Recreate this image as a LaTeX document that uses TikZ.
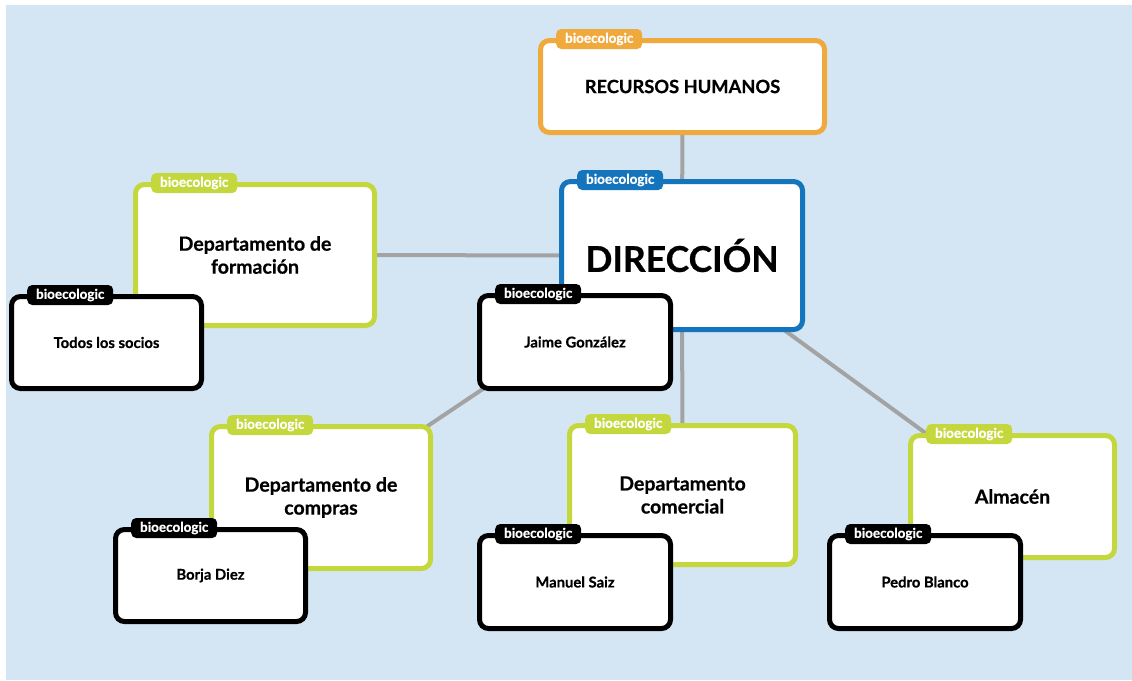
\documentclass[tikz,border=0pt]{standalone}
\usepackage{fontspec}
\setmainfont{Lato}[BoldFeatures={FakeBold=0.6}]
\usetikzlibrary{calc}
\definecolor{bgblue}{HTML}{D4E6F4}
\definecolor{orangeb}{HTML}{F0A93C}
\definecolor{greenb}{HTML}{C4D83E}
\definecolor{blueb}{HTML}{1474BC}
\definecolor{conngray}{HTML}{A3A3A3}
\pgfdeclarelayer{bg}
\pgfdeclarelayer{lines}
\pgfsetlayers{bg,lines,main}
\tikzset{
  box/.style={draw=#1, line width=5pt, rounded corners=9pt, fill=white, inner sep=0pt,
    align=center, text=black},
  tab/.style={fill=#1, rounded corners=5pt, inner sep=0pt, minimum width=86pt,
    minimum height=20pt, text=white, anchor=west,
    font=\fontsize{13.5}{13.5}\selectfont\bfseries},
  conn/.style={draw=conngray, line width=4pt},
  bigtxt/.style={font=\fontsize{18.3}{23}\selectfont\bfseries},
  midtxt/.style={font=\fontsize{19.5}{23}\selectfont\bfseries},
  smalltxt/.style={font=\fontsize{14.8}{16}\selectfont\bfseries},
  dirtxt/.style={font=\fontsize{35.5}{40}\selectfont\bfseries},
}
\begin{document}
\begin{tikzpicture}[x=1pt,y=-1pt]
\useasboundingbox (0,0) rectangle (1132,680);
\begin{pgfonlayer}{bg}
  \fill[white] (0,0) rectangle (1132,680);
  \fill[bgblue] (6,5) rectangle (1132,680);
\end{pgfonlayer}

% Recursos humanos
\node[box=orangeb, bigtxt, minimum width=284pt, minimum height=92pt] (rh) at (682.5,86.5) {RECURSOS HUMANOS};
\node[tab=orangeb] (rhtab) at ($(rh.north west)+(18,1)$) {bioecologic};

% Departamento de formacion
\node[box=greenb, midtxt, minimum width=239pt, minimum height=141pt] (form) at (255,255) {Departamento de\\formación};
\node[tab=greenb] (formtab) at ($(form.north west)+(18,1)$) {bioecologic};
\node[box=black, smalltxt, minimum width=190pt, minimum height=92pt] (socios) at (106.5,342.5) {Todos los socios};
\node[tab=black] (sociostab) at ($(socios.north west)+(18,1)$) {bioecologic};

% Direccion
\node[box=blueb, dirtxt, minimum width=241pt, minimum height=148pt] (dir) at (682,255.5) {DIRECCIÓN};
\node[tab=blueb] (dirtab) at ($(dir.north west)+(18,1)$) {bioecologic};
\node[box=black, smalltxt, minimum width=191pt, minimum height=93pt] (jaime) at (575,342) {Jaime González};
\node[tab=black] (jaimetab) at ($(jaime.north west)+(18,1)$) {bioecologic};

% Departamento de compras
\node[box=greenb, midtxt, minimum width=219pt, minimum height=142pt] (compras) at (321,497.5) {Departamento de\\compras};
\node[tab=greenb] (comprastab) at ($(compras.north west)+(18,1)$) {bioecologic};
\node[box=black, smalltxt, minimum width=190pt, minimum height=92pt] (borja) at (210.5,575.5) {Borja Diez};
\node[tab=black] (borjatab) at ($(borja.north west)+(18,1)$) {bioecologic};

% Departamento comercial
\node[box=greenb, midtxt, minimum width=226pt, minimum height=139pt] (comercial) at (682.5,495) {Departamento\\comercial};
\node[tab=greenb] (comercialtab) at ($(comercial.north west)+(18,1)$) {bioecologic};
\node[box=black, smalltxt, minimum width=191pt, minimum height=93pt] (manuel) at (575,582) {Manuel Saiz};
\node[tab=black] (manueltab) at ($(manuel.north west)+(18,1)$) {bioecologic};

% Almacen
\node[box=greenb, midtxt, minimum width=204pt, minimum height=122pt] (almacen) at (1012.5,496.5) {Almacén};
\node[tab=greenb] (almacentab) at ($(almacen.north west)+(18,1)$) {bioecologic};
\node[box=black, smalltxt, minimum width=191pt, minimum height=93pt] (pedro) at (925,582) {Pedro Blanco};
\node[tab=black] (pedrotab) at ($(pedro.north west)+(18,1)$) {bioecologic};

\begin{pgfonlayer}{lines}
  \draw[conn] (dir.center) -- (rh.center);
  \draw[conn] (dir.center) -- (form.center);
  \draw[conn] (dir.center) -- (compras.center);
  \draw[conn] (dir.center) -- (comercial.center);
  \draw[conn] (dir.center) -- (almacen.center);
\end{pgfonlayer}
\end{tikzpicture}
\end{document}
